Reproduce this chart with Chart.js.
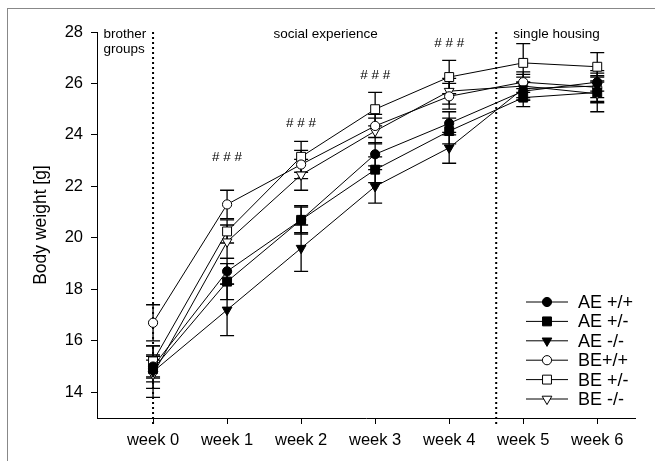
<!DOCTYPE html>
<html lang="en">
<head>
    <meta charset="UTF-8">
    <title>Body weight</title>
    <script src="https://cdn.jsdelivr.net/npm/chart.js"></script>
    <style>
        body { margin: 0; background: #fff; }
        .frame {
            position: absolute;
            left: 7px;
            top: 8px;
            width: 700px;
            height: 500px;
            border-top: 1.5px solid #888;
            border-left: 1.5px solid #888;
        }
        #myChart { position: absolute; left: 0; top: 0; }
    </style>
</head>
<body>
    <div class="frame"></div>
    <canvas id="myChart" width="655" height="461"></canvas>

    <script>
        // semanas e rótulos
        const weeks = [0, 1, 2, 3, 4, 5, 6];
        const weekLabels = ['week 0', 'week 1', 'week 2', 'week 3', 'week 4', 'week 5', 'week 6'];
        const yTicks = [14, 16, 18, 20, 22, 24, 26, 28];

        // médias (g)
        const AE_pp = [15.0, 18.7, 20.7, 23.25, 24.45, 25.7, 26.05];
        const AE_pm = [14.9, 18.3, 20.7, 22.65, 24.15, 25.45, 25.65];
        const AE_mm = [14.8, 17.2, 19.6, 22.0, 23.5, 25.8, 25.9];
        const BE_pp = [16.7, 21.3, 22.85, 24.35, 25.5, 26.05, 25.85];
        const BE_pm = [15.2, 20.25, 23.15, 25.0, 26.25, 26.8, 26.65];
        const BE_mm = [14.7, 19.85, 22.45, 24.15, 25.7, 25.9, 25.6];

        // erro padrão
        const AE_pp_se = [0.45, 0.5, 0.5, 0.45, 0.45, 0.35, 0.35];
        const AE_pm_se = [0.5, 0.7, 0.55, 0.5, 0.5, 0.35, 0.4];
        const AE_mm_se = [1.0, 1.0, 0.9, 0.65, 0.6, 0.45, 0.6];
        const BE_pp_se = [0.7, 0.55, 0.55, 0.45, 0.5, 0.4, 0.4];
        const BE_pm_se = [0.6, 0.45, 0.6, 0.65, 0.65, 0.75, 0.55];
        const BE_mm_se = [0.55, 0.65, 0.6, 0.5, 0.5, 0.45, 0.7];

        // anotações
        const hashWeeks = [1, 2, 3, 4];
        const hashY = [23.15, 24.45, 26.3, 27.55];
        const dividers = [0, 4.635];
        const sections = [
            { text: ['brother', 'groups'], x: -0.67, align: 'left' },
            { text: ['social experience'], x: 2.33, align: 'center' },
            { text: ['single housing'], x: 5.45, align: 'center' }
        ];

        const FONT = '"Liberation Sans", Arial, sans-serif';
        const RADIUS = { circle: 4.6, rect: 6.3, tri: 5.6 };

        function serie(label, values, se, style, filled) {
            return {
                label: label,
                data: weeks.map((w, i) => ({ x: w, y: values[i] })),
                se: se,
                borderColor: '#000',
                borderWidth: 1,
                backgroundColor: filled ? '#000' : '#fff',
                pointStyle: style === 'tri' ? 'triangle' : style,
                pointRotation: style === 'tri' ? 180 : 0,
                pointRadius: RADIUS[style],
                pointBorderWidth: 1,
                pointBorderColor: '#000',
                pointBackgroundColor: filled ? '#000' : '#fff',
                tension: 0
            };
        }

        const datasets = [
            serie('AE +/+', AE_pp, AE_pp_se, 'circle', true),
            serie('AE +/-', AE_pm, AE_pm_se, 'rect', true),
            serie('AE -/-', AE_mm, AE_mm_se, 'tri', true),
            serie('BE+/+', BE_pp, BE_pp_se, 'circle', false),
            serie('BE +/-', BE_pm, BE_pm_se, 'rect', false),
            serie('BE -/-', BE_mm, BE_mm_se, 'tri', false)
        ];

        // barras de erro, linhas pontilhadas e textos
        const extras = {
            id: 'extras',
            beforeDatasetsDraw(chart) {
                const ctx = chart.ctx;
                const xs = chart.scales.x, ys = chart.scales.y;
                ctx.save();
                // linhas pontilhadas
                ctx.strokeStyle = '#000';
                ctx.lineWidth = 2;
                ctx.setLineDash([2, 3]);
                dividers.forEach(d => {
                    const px = xs.getPixelForValue(d);
                    ctx.beginPath();
                    ctx.moveTo(px, ys.getPixelForValue(28));
                    ctx.lineTo(px, ys.getPixelForValue(13) + 6);
                    ctx.stroke();
                });
                ctx.setLineDash([]);
                // barras de erro
                ctx.lineWidth = 1.3;
                chart.data.datasets.forEach(ds => {
                    ds.data.forEach((p, i) => {
                        const px = xs.getPixelForValue(p.x);
                        const top = ys.getPixelForValue(p.y + ds.se[i]);
                        const bot = ys.getPixelForValue(p.y - ds.se[i]);
                        ctx.beginPath();
                        ctx.moveTo(px, top); ctx.lineTo(px, bot);
                        ctx.moveTo(px - 7, top); ctx.lineTo(px + 7, top);
                        ctx.moveTo(px - 7, bot); ctx.lineTo(px + 7, bot);
                        ctx.stroke();
                    });
                });
                // textos
                ctx.fillStyle = '#000';
                ctx.font = '13.5px ' + FONT;
                ctx.textBaseline = 'middle';
                hashWeeks.forEach((w, i) => {
                    ctx.textAlign = 'center';
                    ctx.fillText('# # #', xs.getPixelForValue(w), ys.getPixelForValue(hashY[i]));
                });
                sections.forEach(s => {
                    ctx.textAlign = s.align;
                    s.text.forEach((t, j) => {
                        ctx.fillText(t, xs.getPixelForValue(s.x), ys.top + 2 + j * 15);
                    });
                });
                ctx.restore();
            },
            afterDraw(chart) {
                // legenda
                const ctx = chart.ctx;
                const area = chart.chartArea;
                const x0 = area.right - 109;
                let y = area.bottom - 116;
                ctx.save();
                ctx.font = '18px ' + FONT;
                ctx.textAlign = 'left';
                ctx.textBaseline = 'middle';
                chart.data.datasets.forEach(ds => {
                    ctx.strokeStyle = '#000';
                    ctx.lineWidth = 1;
                    ctx.beginPath();
                    ctx.moveTo(x0, y); ctx.lineTo(x0 + 42, y);
                    ctx.stroke();
                    ctx.fillStyle = ds.pointBackgroundColor;
                    Chart.helpers.drawPoint(ctx, {
                        pointStyle: ds.pointStyle,
                        rotation: ds.pointRotation,
                        radius: ds.pointRadius,
                        borderWidth: 1
                    }, x0 + 21, y);
                    ctx.fillStyle = '#000';
                    ctx.fillText(ds.label, x0 + 52, y + 1);
                    y += 19.4;
                });
                ctx.restore();
            }
        };

        const config = {
            type: 'line',
            data: { datasets: datasets },
            options: {
                responsive: false,
                animation: false,
                layout: { padding: { top: 32, right: 20, left: 0, bottom: 0 } },
                plugins: {
                    legend: { display: false },
                    tooltip: { enabled: false }
                },
                scales: {
                    x: {
                        type: 'linear',
                        min: -0.757,
                        max: 6.51,
                        afterBuildTicks: s => { s.ticks = weeks.map(w => ({ value: w })); },
                        afterFit: s => { s.height = 43; },
                        ticks: {
                            color: '#000',
                            font: { family: FONT, size: 16.5 },
                            padding: 7,
                            maxRotation: 0,
                            callback: v => weekLabels[v]
                        },
                        grid: { drawOnChartArea: false, drawTicks: true, tickLength: 6, color: '#000' },
                        border: { display: true, color: '#000', width: 1 }
                    },
                    y: {
                        min: 13,
                        max: 28,
                        afterBuildTicks: s => { s.ticks = yTicks.map(v => ({ value: v })); },
                        afterFit: s => { s.width = 97; },
                        ticks: {
                            color: '#000',
                            font: { family: FONT, size: 16.5 },
                            padding: 8
                        },
                        grid: { drawOnChartArea: false, drawTicks: true, tickLength: 6, color: '#000' },
                        border: { display: true, color: '#000', width: 1 },
                        title: {
                            display: true,
                            text: 'Body weight [g]',
                            color: '#000',
                            font: { family: FONT, size: 17.5 },
                            padding: { top: 31, bottom: 0 }
                        }
                    }
                }
            },
            plugins: [extras]
        };

        const ctx = document.getElementById('myChart').getContext('2d');
        const myChart = new Chart(ctx, config);
    </script>
</body>
</html>
